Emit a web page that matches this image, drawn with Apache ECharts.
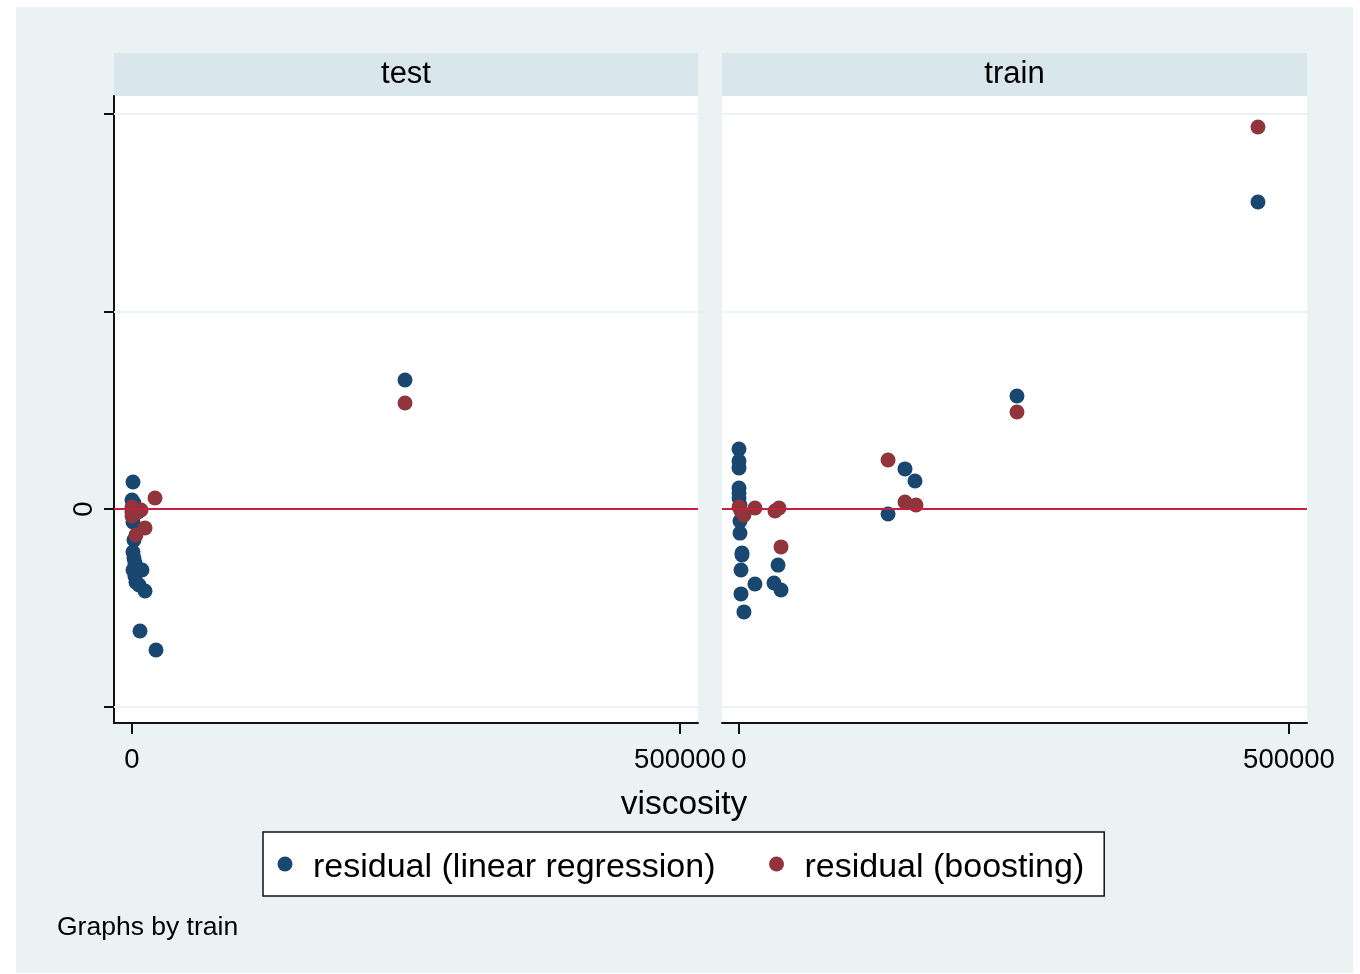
<!DOCTYPE html>
<html>
<head>
<meta charset="utf-8">
<script src="https://cdn.jsdelivr.net/npm/echarts@6/dist/echarts.min.js"></script>
<style>
html,body{margin:0;padding:0;background:#fff;}
#chart{width:1360px;height:974px;}
</style>
</head>
<body>
<div id="chart"></div>
<script>
// Panels (facets by "train")
const panels = ['test', 'train'];
const xTicks = [0, 500000];
const yTicks = [-100000, 0, 100000, 200000];
const yLabelTicks = [0];
const seriesNames = ['residual (linear regression)', 'residual (boosting)'];

// test panel: [viscosity, residual]
const testLinear = [
  [900, 13700], [0, 4560], [1800, 3040], [0, -1520], [900, -6580], [1800, -15700],
  [900, -21800], [1800, -24800], [2700, -27300], [900, -30900], [9100, -30900],
  [2700, -33900], [3600, -37000], [6400, -38500], [11900, -41500], [7300, -61800],
  [21900, -71400], [249100, 65300]
];
const testBoost = [
  [21000, 5570], [0, 1010], [3600, -510], [8200, -510], [0, -3540], [5500, -1520],
  [11900, -9620], [3600, -13200], [249100, 53700]
];
// train panel
const trainLinear = [
  [0, 30400], [0, 24300], [0, 20800], [0, 10600], [0, 8100], [0, 5570], [900, 2030],
  [900, -6080], [900, -12200], [2700, -22300], [2700, -23300], [1800, -30900],
  [14500, -38000], [1800, -43000], [4500, -52100], [35500, -28400], [31800, -37500],
  [38200, -41000], [135500, -2530], [150900, 20300], [160000, 14200],
  [252700, 57200], [471800, 155400]
];
const trainBoost = [
  [0, 1010], [1800, -1010], [4500, -3040], [14500, 510], [32700, -1010], [36400, 510],
  [38200, -19200], [135500, 24800], [150900, 3540], [160900, 2030], [252700, 49100],
  [471800, 193400]
];

const BLUE = '#1a476f', RED = '#90353b', LINE = '#c4203f', BG = '#eaf2f3', STRIP = '#d9e6eb';
const FONT = 'Liberation Sans, Arial, sans-serif';
const Y_MIN = -108350, Y_MAX = 209100;

const gridRects = [
  {left: 114, top: 96, width: 584, height: 627},
  {left: 722, top: 96, width: 585, height: 627}
];
const xRanges = [[-16423, 516423], [-15455, 516364]];

const chart = echarts.init(document.getElementById('chart'), null, {renderer: 'canvas'});

const xAxes = gridRects.map((g, i) => ({
  type: 'value', gridIndex: i, min: xRanges[i][0], max: xRanges[i][1],
  axisLine: {show: true, onZero: false, lineStyle: {color: '#111', width: 2}},
  axisTick: {show: true, length: 11, customValues: xTicks, lineStyle: {color: '#111', width: 2}},
  axisLabel: {show: true, customValues: xTicks, margin: 23, color: '#000', fontSize: 27.5, fontFamily: FONT,
    formatter: v => String(v)},
  splitLine: {show: false}
}));
const yAxes = gridRects.map((g, i) => ({
  type: 'value', gridIndex: i, min: Y_MIN, max: Y_MAX,
  axisLine: {show: i === 0, onZero: false, lineStyle: {color: '#111', width: 2}},
  axisTick: {show: i === 0, length: 10, customValues: yTicks, lineStyle: {color: '#111', width: 2}},
  axisLabel: {show: i === 0, customValues: yLabelTicks, rotate: 90, margin: 16, color: '#000', fontSize: 27.5, fontFamily: FONT,
    formatter: v => String(v)},
  splitLine: {show: false}
}));

function refSeries(i) {
  return {
    type: 'line', xAxisIndex: i, yAxisIndex: i, data: [], silent: true, z: 1,
    markLine: {
      silent: true, symbol: 'none', animation: false, label: {show: false},
      data: [
        {yAxis: -100000, lineStyle: {color: BG, width: 2, type: 'solid'}},
        {yAxis: 100000, lineStyle: {color: BG, width: 2, type: 'solid'}},
        {yAxis: 200000, lineStyle: {color: BG, width: 2, type: 'solid'}},
        {yAxis: 0, lineStyle: {color: LINE, width: 2, type: 'solid'}}
      ]
    }
  };
}
function scatter(name, data, i, color, z) {
  return {
    type: 'scatter', name: name, xAxisIndex: i, yAxisIndex: i, data: data,
    symbol: 'circle', symbolSize: 15, itemStyle: {color: color, opacity: 1}, z: z
  };
}

const option = {
  animation: false,
  backgroundColor: '#ffffff',
  graphic: [
    {type: 'rect', shape: {x: 16, y: 7, width: 1337, height: 966}, style: {fill: BG}, z: -10, silent: true},
    {type: 'rect', shape: {x: 114, y: 96, width: 584, height: 627}, style: {fill: '#fff'}, z: -9, silent: true},
    {type: 'rect', shape: {x: 722, y: 96, width: 585, height: 627}, style: {fill: '#fff'}, z: -9, silent: true},
    {type: 'rect', shape: {x: 114, y: 53, width: 584, height: 43}, style: {fill: STRIP}, z: -9, silent: true},
    {type: 'rect', shape: {x: 722, y: 53, width: 585, height: 43}, style: {fill: STRIP}, z: -9, silent: true}
  ],
  title: [
    {text: panels[0], left: 406, top: 59, textAlign: 'center', textStyle: {fontSize: 31, fontWeight: 'normal', color: '#000', fontFamily: FONT}, padding: 0},
    {text: panels[1], left: 1014.5, top: 59, textAlign: 'center', textStyle: {fontSize: 31, fontWeight: 'normal', color: '#000', fontFamily: FONT}, padding: 0},
    {text: 'viscosity', left: 684, top: 788, textAlign: 'center', textStyle: {fontSize: 33.5, fontWeight: 'normal', color: '#000', fontFamily: FONT}, padding: 0},
    {text: 'Graphs by train', left: 57, top: 914, textStyle: {fontSize: 26.5, fontWeight: 'normal', color: '#000', fontFamily: FONT}, padding: 0}
  ],
  legend: {
    data: seriesNames,
    left: 263, top: 832,
    orient: 'horizontal',
    icon: 'circle',
    itemWidth: 15, itemHeight: 15,
    itemGap: 53.5,
    padding: [11.5, 20, 11.5, 14.5],
    backgroundColor: '#fff',
    borderColor: '#111', borderWidth: 1.5, borderRadius: 0,
    selectedMode: false,
    formatter: '{t|{name}}',
    textStyle: {
      fontSize: 34, color: '#000', fontFamily: FONT,
      rich: {t: {fontSize: 34, color: '#000', fontFamily: FONT, lineHeight: 30, padding: [7, 0, 0, 15.5]}}
    }
  },
  grid: gridRects.map(g => Object.assign({containLabel: false}, g)),
  xAxis: xAxes,
  yAxis: yAxes,
  series: [
    refSeries(0), refSeries(1),
    scatter(seriesNames[0], testLinear, 0, BLUE, 3),
    scatter(seriesNames[1], testBoost, 0, RED, 4),
    scatter(seriesNames[0], trainLinear, 1, BLUE, 3),
    scatter(seriesNames[1], trainBoost, 1, RED, 4)
  ]
};
chart.setOption(option);
</script>
</body>
</html>
